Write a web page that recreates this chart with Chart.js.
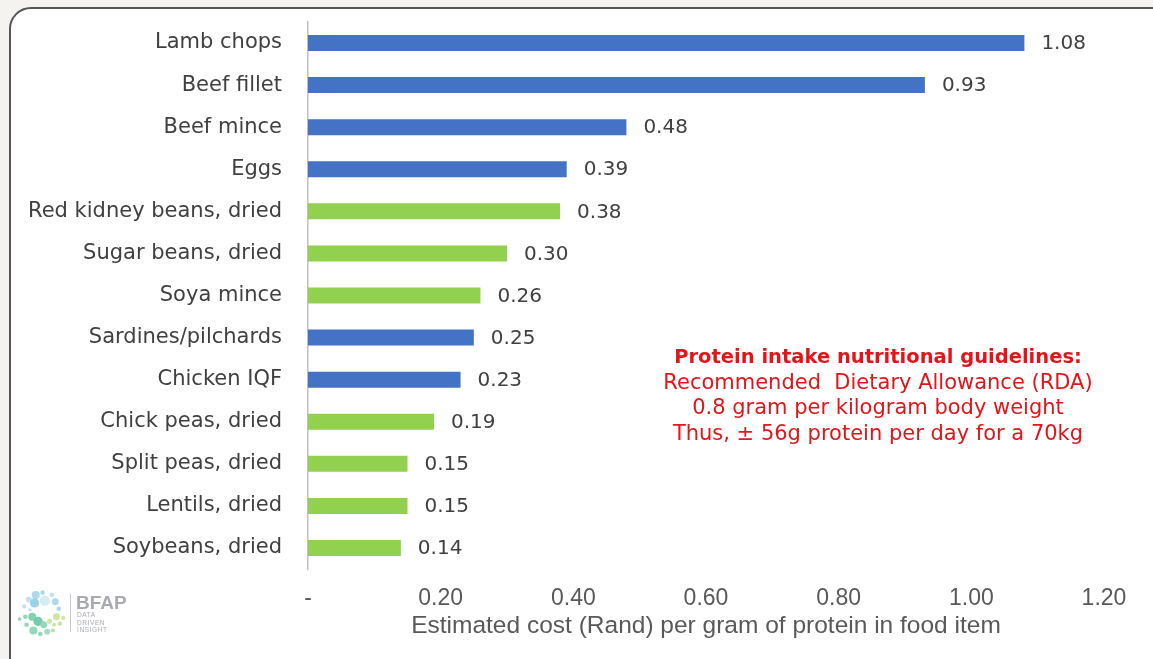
<!DOCTYPE html>
<html>
<head>
<meta charset="utf-8">
<script src="https://cdn.jsdelivr.net/npm/chart.js@4.4.1/dist/chart.umd.min.js"></script>
<style>
  html, body { margin: 0; padding: 0; background: #f4f3ef; overflow: hidden; }
  #stage { position: relative; width: 1153px; height: 659px; overflow: hidden; }
  #frame { position: absolute; left: 9px; top: 7px; width: 1180px; height: 720px; box-sizing: border-box;
           border: 2px solid #555; border-radius: 22px; background: #fff; }
  #wrap { position: absolute; left: 0; top: 0; width: 1153px; height: 659px; }
  #note { position: absolute; left: 578px; top: 344px; width: 600px; text-align: center;
          color: #e2151b; font-family: "DejaVu Sans", sans-serif; font-size: 21px; line-height: 25.7px; }
  #note b { font-size: 19.5px; }
  #logo { position: absolute; left: 12px; top: 584px; }
</style>
</head>
<body>
<div id="stage">
  <div id="frame"></div>
  <div id="wrap"><canvas id="c"></canvas></div>
  <div id="note"><b>Protein intake nutritional guidelines:</b><br>Recommended&nbsp; Dietary Allowance (RDA)<br>0.8 gram per kilogram body weight<br>Thus, ± 56g protein per day for a 70kg</div>
  <svg id="logo" width="130" height="60" viewBox="0 0 130 60">
    <g transform="translate(3,4) scale(1.15)" opacity="0.85">
      <circle cx="18" cy="6" r="3.5" fill="#9fd3ea"/>
      <circle cx="24" cy="4" r="2" fill="#9fd3ea"/>
      <circle cx="12" cy="10" r="2.5" fill="#b6def0"/>
      <circle cx="17" cy="13" r="4" fill="#8cc9e6"/>
      <circle cx="26" cy="11" r="4.5" fill="#cdeaf2"/>
      <circle cx="32" cy="6" r="2" fill="#b6def0"/>
      <circle cx="35" cy="12" r="3" fill="#9fd3ea"/>
      <circle cx="38" cy="18" r="2" fill="#9fd3ea"/>
      <circle cx="8" cy="16" r="1.8" fill="#b6def0"/>
      <circle cx="13" cy="19" r="1.5" fill="#b6def0"/>
      <circle cx="4" cy="27" r="1.6" fill="#7fd3b0"/>
      <circle cx="9" cy="25" r="2" fill="#7fd3b0"/>
      <circle cx="15" cy="25" r="3.5" fill="#6fcaa3"/>
      <circle cx="20" cy="29" r="4" fill="#5cc49a"/>
      <circle cx="25" cy="32" r="3" fill="#7fd3b0"/>
      <circle cx="10" cy="32" r="2" fill="#7fd3b0"/>
      <circle cx="16" cy="37" r="3.5" fill="#7fd3b0"/>
      <circle cx="22" cy="40" r="2" fill="#7fd3b0"/>
      <circle cx="28" cy="38" r="2.5" fill="#8fd8b8"/>
      <circle cx="33" cy="37" r="1.8" fill="#a8dd9a"/>
      <circle cx="30" cy="29" r="2.2" fill="#c6e58a"/>
      <circle cx="36" cy="25" r="3" fill="#c6e58a"/>
      <circle cx="42" cy="26" r="1.8" fill="#c6e58a"/>
      <circle cx="39" cy="31" r="1.8" fill="#b7e08a"/>
      <circle cx="34" cy="32" r="1.5" fill="#b7e08a"/>
    </g>
    <line x1="58.5" y1="10" x2="58.5" y2="48" stroke="#c8c8c8" stroke-width="1"/>
    <text x="64" y="25" font-family="Liberation Sans, sans-serif" font-weight="bold" font-size="19" fill="#a9abb0">BFAP</text>
    <text x="65" y="33" font-family="Liberation Sans, sans-serif" font-size="6.5" letter-spacing="0.6" fill="#a9abb0">DATA</text>
    <text x="65" y="40.5" font-family="Liberation Sans, sans-serif" font-size="6.5" letter-spacing="0.6" fill="#a9abb0">DRIVEN</text>
    <text x="65" y="48" font-family="Liberation Sans, sans-serif" font-size="6.5" letter-spacing="0.6" fill="#a9abb0">INSIGHT</text>
  </svg>
</div>
<script>
// ---- data ----
const categories = [
  'Lamb chops', 'Beef fillet', 'Beef mince', 'Eggs', 'Red kidney beans, dried',
  'Sugar beans, dried', 'Soya mince', 'Sardines/pilchards', 'Chicken IQF',
  'Chick peas, dried', 'Split peas, dried', 'Lentils, dried', 'Soybeans, dried'
];
const costPerGramProtein = [1.08, 0.93, 0.48, 0.39, 0.38, 0.30, 0.26, 0.25, 0.23, 0.19, 0.15, 0.15, 0.14];
const proteinSource = ['animal', 'animal', 'animal', 'animal', 'plant', 'plant', 'plant',
                       'animal', 'animal', 'plant', 'plant', 'plant', 'plant'];
const xTickValues = [0, 0.2, 0.4, 0.6, 0.8, 1.0, 1.2];
const xTickLabels = ['-', '0.20', '0.40', '0.60', '0.80', '1.00', '1.20'];
const xAxisTitle = 'Estimated cost (Rand) per gram of protein in food item';

// ---- styles ----
const sourceColors = { animal: '#4472c4', plant: '#92d050' };

const valueLabels = {
  id: 'valueLabels',
  afterDatasetsDraw(chart) {
    const ctx = chart.ctx;
    const meta = chart.getDatasetMeta(0);
    ctx.save();
    ctx.font = '20px "DejaVu Sans", sans-serif';
    ctx.fillStyle = '#404040';
    ctx.textAlign = 'left';
    ctx.textBaseline = 'middle';
    meta.data.forEach((bar, i) => {
      ctx.fillText(costPerGramProtein[i].toFixed(2), bar.x + 17, bar.y + 1);
    });
    ctx.restore();
  }
};

new Chart(document.getElementById('c'), {
  type: 'bar',
  data: {
    labels: categories,
    datasets: [{
      data: costPerGramProtein,
      backgroundColor: proteinSource.map(s => sourceColors[s]),
      borderWidth: 0,
      barPercentage: 0.38,
      categoryPercentage: 1.0
    }]
  },
  options: {
    indexAxis: 'y',
    responsive: true,
    maintainAspectRatio: false,
    animation: false,
    layout: { padding: { left: 0, right: 49, top: 22, bottom: 0 } },
    plugins: { legend: { display: false }, tooltip: { enabled: false } },
    scales: {
      x: {
        min: 0, max: 1.2,
        afterBuildTicks(scale) { scale.ticks = xTickValues.map(v => ({ value: v })); },
        afterFit(scale) { scale.height = 90; scale.paddingLeft = 0; scale.paddingRight = 0; },
        grid: { display: false, drawTicks: false },
        border: { display: false },
        ticks: {
          padding: 16,
          color: '#595959',
          font: { family: '"Liberation Sans", Arial, sans-serif', size: 23 },
          callback: (v, i) => xTickLabels[i]
        },
        title: {
          display: true,
          text: xAxisTitle,
          color: '#595959',
          font: { family: '"Liberation Sans", Arial, sans-serif', size: 24.5 },
          padding: { top: 0, bottom: 18 }
        }
      },
      y: {
        afterFit(scale) { scale.width = 308; scale.paddingTop = 0; scale.paddingBottom = 0; },
        grid: { display: false, drawTicks: false },
        border: { display: true, color: '#bfbfbf', width: 1.5 },
        ticks: {
          padding: 26,
          color: '#404040',
          font: { family: '"DejaVu Sans", sans-serif', size: 21 }
        }
      }
    }
  },
  plugins: [valueLabels]
});
</script>
</body>
</html>
